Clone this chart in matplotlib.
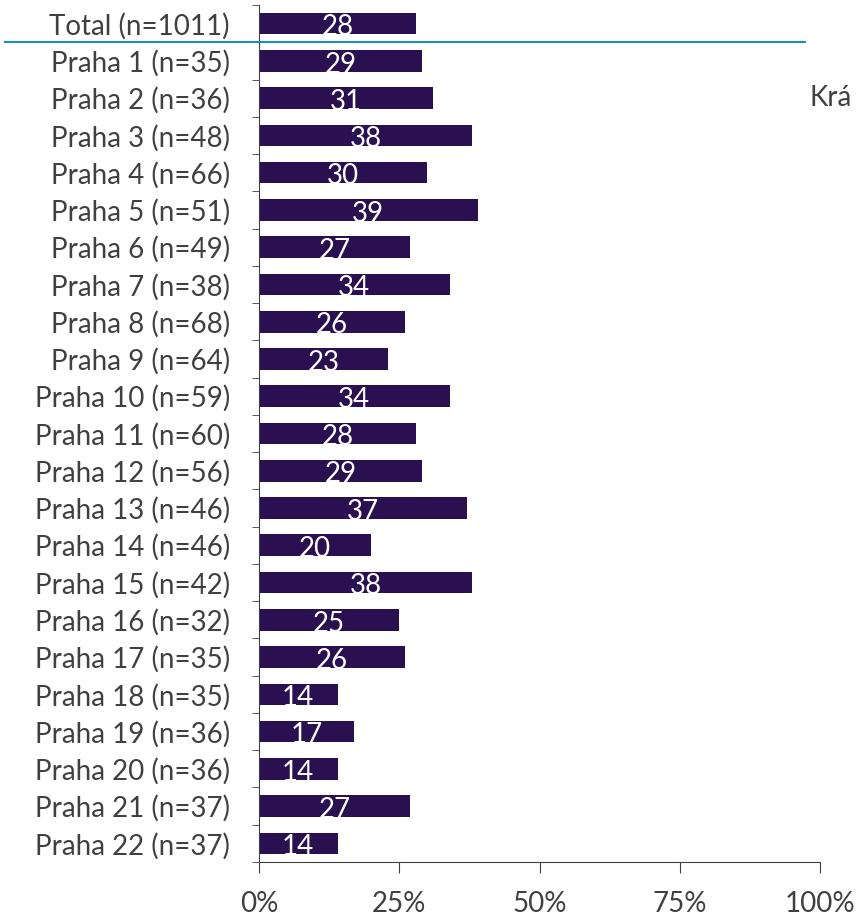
import matplotlib.pyplot as plt
import numpy as np

# categories and values
labels = ["Total (n=1011)", "Praha 1 (n=35)", "Praha 2 (n=36)", "Praha 3 (n=48)",
          "Praha 4 (n=66)", "Praha 5 (n=51)", "Praha 6 (n=49)", "Praha 7 (n=38)",
          "Praha 8 (n=68)", "Praha 9 (n=64)", "Praha 10 (n=59)", "Praha 11 (n=60)",
          "Praha 12 (n=56)", "Praha 13 (n=46)", "Praha 14 (n=46)", "Praha 15 (n=42)",
          "Praha 16 (n=32)", "Praha 17 (n=35)", "Praha 18 (n=35)", "Praha 19 (n=36)",
          "Praha 20 (n=36)", "Praha 21 (n=37)", "Praha 22 (n=37)"]
values = [28, 29, 31, 38, 30, 39, 27, 34, 26, 23, 34, 28, 29, 37, 20, 38,
          25, 26, 14, 17, 14, 27, 14]
xticks = [0, 25, 50, 75, 100]
xtick_labels = ["0%", "25%", "50%", "75%", "100%"]

text_color = "#404040"
bar_color = "#2a1050"

plt.rcParams['font.family'] = ['Lato', 'DejaVu Sans']

fig = plt.figure(figsize=(8.58, 9.18), dpi=100)
ax = fig.add_axes([259 / 858, 56 / 918, 561 / 858, 857 / 918])

y = np.arange(len(labels))
bars = ax.barh(y, values, height=0.58, color=bar_color)
for rect, v in zip(bars, values):
    ax.text(rect.get_width() / 2, rect.get_y() + rect.get_height() / 2 + 0.1, str(v),
            ha="center", va="center", color="white", fontsize=20)

ax.set_xlim(0, 100)
ax.set_ylim(len(labels) - 0.5, -0.5)
ax.set_yticks(y)
ax.set_yticklabels(labels, fontsize=20, color=text_color)
ax.set_yticks(np.arange(-0.5, len(labels)), minor=True)
ax.tick_params(axis="y", which="major", length=0, pad=21)
ax.tick_params(axis="y", which="minor", length=5, color=text_color)
ax.set_xticks(xticks)
ax.set_xticklabels(xtick_labels, fontsize=20, color=text_color)
ax.tick_params(axis="x", length=8, pad=13, color=text_color)

ax.spines["top"].set_visible(False)
ax.spines["right"].set_visible(False)
for s in ["left", "bottom"]:
    ax.spines[s].set_color(text_color)

# separator line under Total and legend text on the right
fig.add_artist(plt.Line2D([5 / 858, 805 / 858], [1 - 42 / 918, 1 - 42 / 918],
                          color="#1a8cc8", lw=1.5))
fig.text(852 / 858, 1 - 98 / 918, "Krá", fontsize=20, color=text_color,
         ha="right", va="center")

fig.savefig("out.png", dpi=100)
